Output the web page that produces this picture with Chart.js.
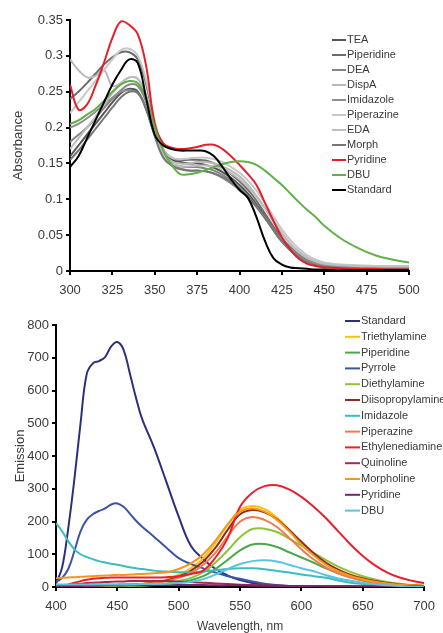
<!DOCTYPE html>
<html>
<head>
<meta charset="utf-8">
<script src="https://cdn.jsdelivr.net/npm/chart.js@4"></script>
<style>
  body { margin: 0; background: #fff; }
  canvas { position: absolute; left: 0; }
  #absChart { top: 0; }
  #emChart { top: 300px; }
</style>
</head>
<body>
<canvas id="absChart" width="443" height="300"></canvas>
<canvas id="emChart" width="443" height="333"></canvas>
<script>
// absorbance (top chart)
const absWave = [300,305,310,315,320,325,330,335,340,345,350,355,360,365,370,375,380,385,390,395,400,405,410,415,420,425,430,435,440,445,450,460,470,480,490,500];
const absNames = ["TEA", "Piperidine", "DEA", "DispA", "Imidazole", "Piperazine", "EDA", "Morph", "Pyridine", "DBU", "Standard"];
const absColors = ["#555555", "#6c6c6c", "#858585", "#b8b8b8", "#8f8f8f", "#c8c8c8", "#bebebe", "#777777", "#e3202a", "#62b04a", "#000000"];
const absTEA = [.160,.175,.190,.205,.220,.235,.248,.254,.250,.225,.190,.165,.155,.152,.150,.150,.148,.144,.138,.130,.120,.108,.093,.076,.058,.042,.030,.020,.013,.009,.007,.005,.004,.003,.003,.003];
const absPiperidine = [.240,.250,.262,.275,.288,.298,.305,.305,.295,.260,.205,.170,.158,.155,.155,.155,.154,.150,.143,.135,.125,.113,.098,.080,.062,.046,.033,.023,.015,.011,.008,.006,.005,.004,.004,.004];
const absDEA = [.180,.190,.200,.213,.227,.240,.252,.260,.258,.235,.195,.162,.150,.146,.145,.145,.143,.140,.134,.126,.116,.104,.090,.074,.057,.041,.029,.019,.012,.008,.006,.005,.004,.003,.003,.003];
const absDispA = [.295,.280,.270,.272,.280,.258,.262,.270,.268,.245,.200,.165,.153,.150,.150,.152,.152,.150,.146,.140,.132,.120,.105,.088,.070,.053,.038,.027,.019,.014,.011,.008,.007,.006,.006,.006];
const absImidazole = [.200,.205,.213,.222,.232,.242,.250,.252,.248,.228,.190,.160,.148,.143,.140,.140,.139,.136,.130,.122,.113,.102,.089,.074,.058,.043,.031,.021,.014,.010,.008,.006,.005,.004,.004,.004];
const absPiperazine = [.220,.235,.250,.265,.280,.295,.308,.310,.300,.265,.210,.170,.158,.156,.157,.158,.158,.156,.152,.145,.137,.126,.112,.095,.076,.058,.043,.031,.022,.016,.012,.009,.008,.007,.007,.007];
const absEDA = [.170,.185,.200,.215,.232,.248,.262,.270,.268,.240,.197,.163,.150,.146,.146,.147,.147,.146,.142,.136,.128,.117,.103,.087,.069,.052,.037,.026,.018,.013,.010,.008,.007,.006,.006,.006];
const absMorph = [.155,.168,.183,.198,.213,.228,.242,.250,.248,.225,.188,.158,.147,.142,.140,.140,.139,.136,.131,.124,.115,.104,.090,.074,.057,.041,.029,.019,.012,.008,.006,.004,.003,.003,.003,.003];
const absPyridine = [.260,.225,.232,.258,.290,.325,.348,.343,.330,.285,.205,.178,.172,.170,.171,.173,.176,.176,.170,.160,.148,.135,.120,.095,.070,.047,.030,.017,.010,.007,.005,.004,.003,.003,.002,.002];
const absDBU = [.205,.210,.218,.226,.237,.250,.260,.265,.262,.240,.200,.168,.148,.135,.135,.137,.141,.145,.149,.152,.153,.152,.148,.140,.130,.120,.108,.096,.085,.075,.063,.045,.032,.022,.016,.012];
const absStandard = [.145,.160,.185,.210,.235,.260,.280,.295,.290,.240,.190,.175,.170,.168,.168,.168,.167,.160,.145,.128,.113,.102,.075,.042,.018,.009,.005,.004,.003,.002,.002,.001,.001,.001,.001,.001];
const absSeries = [absTEA, absPiperidine, absDEA, absDispA, absImidazole, absPiperazine, absEDA, absMorph, absPyridine, absDBU, absStandard];
const absTicks = [0, 0.05, 0.1, 0.15, 0.2, 0.25, 0.3, 0.35];

// emission (bottom chart)
const emWave = [400,405,410,415,420,425,430,435,440,445,450,455,460,465,470,480,490,500,510,520,530,540,550,560,570,580,590,600,610,620,630,640,650,660,670,680,690,700];
const emNames = ["Standard", "Triethylamine", "Piperidine", "Pyrrole", "Diethylamine", "Diisopropylamine", "Imidazole", "Piperazine", "Ethylenediamine", "Quinoline", "Morpholine", "Pyridine", "DBU"];
const emColors = ["#2b2f7e", "#fdc010", "#4aa84a", "#3b55a5", "#8cc43c", "#8a2e1e", "#3bbdbd", "#f27a4a", "#e8202a", "#a52a50", "#f7961e", "#7a2660", "#58c4e2"];
const emStandard = [10,60,180,330,500,650,683,690,702,735,748,725,655,580,515,425,320,215,125,85,55,35,21,12,7,4,2,1,1,1,1,1,1,1,1,1,1,1];
const emTriethylamine = [6,6,6,6,7,7,7,7,8,8,8,8,9,9,10,14,22,38,58,88,135,190,235,247,238,212,175,135,100,72,52,38,28,20,14,9,6,4];
const emPiperidine = [2,2,2,2,2,3,3,3,3,3,3,4,4,4,4,6,9,14,21,33,55,83,112,130,131,122,106,90,74,57,42,30,20,13,8,5,3,2];
const emPyrrole = [15,28,55,110,170,205,222,232,240,252,255,245,225,203,185,153,120,88,70,57,44,33,25,17,10,6,3,2,1,1,1,1,1,1,1,1,1,1];
const emDiethylamine = [2,2,2,2,3,3,3,3,3,4,4,4,4,5,5,7,11,18,28,45,75,112,152,177,178,168,148,126,104,82,62,46,33,23,15,10,6,4];
const emDiisopropylamine = [3,3,3,4,4,4,5,5,5,6,6,7,7,8,9,13,20,32,50,78,120,175,222,235,228,207,174,138,103,74,53,37,26,18,12,8,5,3];
const emImidazole = [195,170,140,115,100,92,85,79,75,71,68,64,60,57,55,50,47,45,45,47,51,55,57,57,54,49,44,38,33,28,20,13,9,5,3,2,1,1];
const emPiperazine = [3,3,3,4,4,4,5,5,5,6,6,7,7,8,9,12,18,28,43,68,105,155,200,214,205,183,150,115,84,60,42,29,20,13,9,6,4,2];
const emEthylenediamine = [2,4,8,13,18,22,25,27,28,29,29,29,29,29,29,29,30,33,40,50,90,150,245,288,308,311,298,275,245,210,170,130,95,66,44,29,19,12];
const emQuinoline = [3,4,6,8,10,12,13,14,15,16,17,17,18,18,18,18,18,17,15,13,11,9,7,6,5,4,3,3,2,2,2,2,1,1,1,1,1,1];
const emMorpholine = [27,28,29,30,31,32,33,34,35,36,37,37,38,39,40,42,45,55,72,100,142,192,230,240,230,205,170,130,96,68,48,34,24,16,11,7,5,3];
const emPyridine = [2,2,3,3,3,4,4,4,5,5,5,5,6,6,6,6,6,6,6,6,5,5,5,4,4,4,3,3,3,2,2,2,2,2,2,2,2,2];
const emDBU = [8,8,8,8,8,8,8,8,8,8,8,8,8,8,9,9,10,12,16,24,38,55,70,79,82,78,68,57,48,36,26,19,13,8,5,3,1,1];
const emSeries = [emStandard, emTriethylamine, emPiperidine, emPyrrole, emDiethylamine, emDiisopropylamine, emImidazole, emPiperazine, emEthylenediamine, emQuinoline, emMorpholine, emPyridine, emDBU];

const FONT = "'Liberation Sans', Arial, sans-serif";
const TEXT = "#3a3a3a";

// legend drawn as short line + name, stacked, inside the plot
const lineLegend = {
  id: 'lineLegend',
  afterDraw(chart, args, opts) {
    const ctx = chart.ctx;
    ctx.save();
    ctx.font = opts.size + "px " + FONT;
    ctx.textBaseline = "middle";
    chart.data.datasets.forEach((ds, i) => {
      const y = opts.y + i * opts.gap;
      ctx.strokeStyle = ds.borderColor;
      ctx.lineWidth = 2;
      ctx.beginPath();
      ctx.moveTo(opts.x, y);
      ctx.lineTo(opts.x + opts.len, y);
      ctx.stroke();
      ctx.fillStyle = TEXT;
      ctx.fillText(ds.label, opts.x + opts.len + 1, y);
    });
    ctx.restore();
  }
};

function makeSets(names, colors, series, wave) {
  return names.map((n, i) => ({
    label: n,
    data: series[i].map((v, k) => ({ x: wave[k], y: v })),
    borderColor: colors[i],
    borderWidth: 2,
    pointRadius: 0,
    fill: false,
    tension: 0.4,
    order: -i
  }));
}

function axis(min, max, step, fmt, title, titleCfg, pad, fit) {
  return {
    type: 'linear',
    min: min, max: max,
    ticks: { stepSize: step, color: TEXT, font: { family: FONT, size: 13 }, padding: pad, callback: fmt },
    grid: { drawOnChartArea: false, drawTicks: true, tickLength: 4, color: '#000', lineWidth: 2 },
    border: { display: true, color: '#000', width: 2 },
    title: title ? Object.assign({ display: true, text: title, color: TEXT }, titleCfg) : { display: false },
    afterFit: fit
  };
}

new Chart(document.getElementById("absChart"), {
  type: 'line',
  data: { datasets: makeSets(absNames, absColors, absSeries, absWave) },
  options: {
    responsive: false,
    animation: false,
    layout: { padding: { top: 20, right: 34, left: 0, bottom: 0 } },
    plugins: {
      legend: { display: false },
      tooltip: { enabled: false },
      lineLegend: { x: 332, y: 40, gap: 15, len: 14, size: 11 }
    },
    scales: {
      x: axis(300, 500, 25, v => v, null, null, 8, s => { s.height = 29; }),
      y: axis(0, 0.35, 0.05, v => absTicks.includes(Number(v.toFixed(2))) ? String(Number(v.toFixed(2))) : '',
        'Absorbance', { font: { family: FONT, size: 13 }, padding: { top: 11, bottom: 0 } }, 3, s => { s.width = 70; })
    }
  },
  plugins: [lineLegend]
});

new Chart(document.getElementById("emChart"), {
  type: 'line',
  data: { datasets: makeSets(emNames, emColors, emSeries, emWave) },
  options: {
    responsive: false,
    animation: false,
    layout: { padding: { top: 25, right: 16, left: 0, bottom: 0 } },
    plugins: {
      legend: { display: false },
      tooltip: { enabled: false },
      lineLegend: { x: 345, y: 21, gap: 15.8, len: 15, size: 11 }
    },
    scales: {
      x: axis(400, 700, 50, v => v, 'Wavelength, nm',
        { font: { family: FONT, size: 12, lineHeight: 1 }, padding: { top: 0, bottom: 0 } }, 8, s => { s.height = 46; }),
      y: axis(0, 800, 100, v => v, 'Emission',
        { font: { family: FONT, size: 13 }, padding: { top: 13, bottom: 0 } }, 3, s => { s.width = 56; })
    }
  },
  plugins: [lineLegend]
});
</script>
</body>
</html>
